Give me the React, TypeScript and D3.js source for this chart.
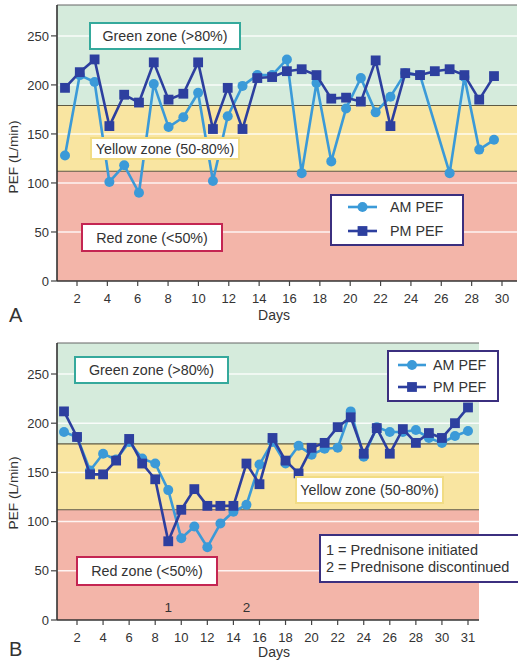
import React from 'react';
import * as d3 from 'd3';

// ---------- DATA ----------
const daysA = [1,2,3,4,5,6,7,8,9,10,11,12,13,14,15,16,17,18,19,20,21,22,23,24,25,26,27,28,29,30];
const amA: (number | null)[] = [128,210,203,101,118,90,201,157,167,192,102,168,199,210,210,226,110,202,122,176,207,172,188,212,210,null,110,208,134,144];
const pmA: (number | null)[] = [197,213,226,158,190,182,223,185,191,223,155,197,155,207,208,214,216,210,186,187,183,225,158,212,210,214,216,210,185,209];
const xTickLabelsA = ['2','4','6','8','10','12','14','16','18','20','22','24','26','28','30'];
const xTickValsA = [2,4,6,8,10,12,14,16,18,20,22,24,26,28,30];

const daysB = [1,2,3,4,5,6,7,8,9,10,11,12,13,14,15,16,17,18,19,20,21,22,23,24,25,26,27,28,29,30,31,32];
const amB: (number | null)[] = [191,186,152,169,163,181,164,159,132,83,95,74,98,110,117,158,181,159,177,168,174,175,212,166,196,191,191,193,185,180,187,192];
const pmB: (number | null)[] = [212,186,148,148,162,184,159,143,80,112,133,116,116,116,159,138,185,162,149,175,180,196,206,169,195,169,194,180,190,185,200,216];
const xTickLabelsB = ['2','4','6','8','10','12','14','16','18','20','22','24','26','28','30','31'];
const xTickValsB = [2,4,6,8,10,12,14,16,18,20,22,24,26,28,30,32];

const yTicks = [0,50,100,150,200,250];
const gridVals = [50,100,150,200,250];
const zoneCuts = [112,179];
const yMax = 281.5;

const seriesNames = ['AM PEF','PM PEF'];
const noteLines = ['1 = Prednisone initiated','2 = Prednisone discontinued'];
const eventDays = [9,15];
const eventLabels = ['1','2'];

// ---------- STYLE ----------
const FONT = '"Liberation Sans", Arial, Helvetica, sans-serif';
const AM_COLOR = '#3b9ad8';
const PM_COLOR = '#2d3f9f';
const GREEN = '#d5ebdc';
const YELLOW = '#f9e5a1';
const RED = '#f3b5a9';
const TEXT = '#333';

type Box = { x: number; y: number; w: number; h: number; text: string; stroke: string };

function Marker({ kind, x, y, color }: { kind: 'c' | 's'; x: number; y: number; color: string }) {
  if (kind === 'c') return <circle cx={x} cy={y} r={5} fill={color} />;
  const s = 9.8;
  return <rect x={x - s / 2} y={y - s / 2} width={s} height={s} fill={color} />;
}

function LabelBox({ b }: { b: Box }) {
  return (
    <g>
      <rect x={b.x} y={b.y} width={b.w} height={b.h} fill="#fff" stroke={b.stroke} strokeWidth={2} />
      <text x={b.x + b.w / 2} y={b.y + b.h / 2} dy="0.36em" textAnchor="middle" fontSize={14.3} fill={TEXT} fontFamily={FONT}>
        {b.text}
      </text>
    </g>
  );
}

function Panel(props: {
  left: number; right: number; top: number; bottom: number;
  xDomain: [number, number]; xRange: [number, number];
  tickDomain: [number, number]; tickRange: [number, number];
  days: number[]; am: (number | null)[]; pm: (number | null)[];
  tickVals: number[]; tickLabels: string[];
  boxes: Box[];
  legend: { x: number; y: number; w: number; h: number; rowY: number[]; lineX0: number; lineX1: number; textX: number; fontSize: number };
  letter: string; letterY: number; daysY: number; daysX: number; yLabelY: number;
  events?: boolean;
  note?: { x: number; y: number; w: number; h: number };
}) {
  const p = props;
  const x = d3.scaleLinear().domain(p.xDomain).range(p.xRange);
  const xt = d3.scaleLinear().domain(p.tickDomain).range(p.tickRange);
  const y = d3.scaleLinear().domain([0, yMax]).range([p.bottom, p.top]);
  const line = d3.line<[number, number]>().x(d => x(d[0])).y(d => y(d[1]));
  const pts = (vals: (number | null)[]) =>
    p.days.map((d, i) => [d, vals[i]] as [number, number | null]).filter(d => d[1] !== null) as [number, number][];
  const amPts = pts(p.am);
  const pmPts = pts(p.pm);
  const W = p.right - p.left;
  return (
    <g>
      {/* zones */}
      <rect x={p.left} y={y(yMax)} width={W} height={y(zoneCuts[1]) - y(yMax)} fill={GREEN} />
      <rect x={p.left} y={y(zoneCuts[1])} width={W} height={y(zoneCuts[0]) - y(zoneCuts[1])} fill={YELLOW} />
      <rect x={p.left} y={y(zoneCuts[0])} width={W} height={y(0) - y(zoneCuts[0])} fill={RED} />
      {gridVals.map(v => (
        <line key={v} x1={p.left} x2={p.right} y1={y(v)} y2={y(v)} stroke="#fff" strokeOpacity={0.85} strokeWidth={1.5} />
      ))}
      {zoneCuts.map(v => (
        <line key={v} x1={p.left} x2={p.right} y1={y(v)} y2={y(v)} stroke="#5e5a44" strokeWidth={1.1} />
      ))}
      <line x1={p.left} x2={p.right} y1={p.top} y2={p.top} stroke="#666" strokeWidth={1.2} />
      {/* data */}
      <path d={line(amPts) || ''} fill="none" stroke={AM_COLOR} strokeWidth={2.6} strokeLinejoin="round" />
      {amPts.map((d, i) => <Marker key={'a' + i} kind="c" x={x(d[0])} y={y(d[1])} color={AM_COLOR} />)}
      <path d={line(pmPts) || ''} fill="none" stroke={PM_COLOR} strokeWidth={2.6} strokeLinejoin="round" />
      {pmPts.map((d, i) => <Marker key={'p' + i} kind="s" x={x(d[0])} y={y(d[1])} color={PM_COLOR} />)}
      {/* zone boxes */}
      {p.boxes.map((b, i) => <LabelBox key={i} b={b} />)}
      {/* legend */}
      <rect x={p.legend.x} y={p.legend.y} width={p.legend.w} height={p.legend.h} fill="#fff" stroke="#3b2f7f" strokeWidth={2} />
      {seriesNames.map((n, i) => {
        const ly = p.legend.rowY[i];
        const col = i === 0 ? AM_COLOR : PM_COLOR;
        const mx = (p.legend.lineX0 + p.legend.lineX1) / 2;
        return (
          <g key={n}>
            <line x1={p.legend.lineX0} x2={p.legend.lineX1} y1={ly} y2={ly} stroke={col} strokeWidth={2.6} />
            <Marker kind={i === 0 ? 'c' : 's'} x={mx} y={ly} color={col} />
            <text x={p.legend.textX} y={ly} dy="0.36em" fontSize={p.legend.fontSize} fill={TEXT} fontFamily={FONT}>{n}</text>
          </g>
        );
      })}
      {p.note && (
        <g>
          <rect x={p.note.x} y={p.note.y} width={p.note.w} height={p.note.h} fill="#fff" stroke="#3b2f7f" strokeWidth={2} />
          {noteLines.map((t, i) => (
            <text key={i} x={p.note!.x + 6} y={p.note!.y + 15 + i * 17} dy="0.36em" fontSize={14.5} fill={TEXT} fontFamily={FONT}>{t}</text>
          ))}
        </g>
      )}
      {p.events && eventDays.map((d, i) => (
        <text key={i} x={x(d)} y={y(13)} dy="0.36em" textAnchor="middle" fontSize={13.5} fill={TEXT} fontFamily={FONT}>{eventLabels[i]}</text>
      ))}
      {/* axes */}
      <line x1={p.left} x2={p.left} y1={p.top} y2={p.bottom} stroke="#333" strokeWidth={1.6} />
      <line x1={p.left} x2={p.right} y1={p.bottom} y2={p.bottom} stroke="#333" strokeWidth={1.6} />
      {yTicks.map(v => (
        <g key={v}>
          <line x1={p.left - 6} x2={p.left} y1={y(v)} y2={y(v)} stroke="#444" strokeWidth={1.2} />
          <text x={p.left - 8} y={y(v)} dy="0.36em" textAnchor="end" fontSize={13} fill={TEXT} fontFamily={FONT}>{v}</text>
        </g>
      ))}
      {p.tickVals.map((v, i) => (
        <g key={v}>
          <line x1={xt(v)} x2={xt(v)} y1={p.bottom} y2={p.bottom + 5} stroke="#444" strokeWidth={1.2} />
          <text x={xt(v)} y={p.bottom + 17} dy="0.36em" textAnchor="middle" fontSize={13} fill={TEXT} fontFamily={FONT}>{p.tickLabels[i]}</text>
        </g>
      ))}
      <text x={p.daysX} y={p.daysY} dy="0.36em" textAnchor="middle" fontSize={14} fill={TEXT} fontFamily={FONT}>Days</text>
      <text transform={`translate(13,${p.yLabelY}) rotate(-90)`} dy="0.36em" textAnchor="middle" fontSize={13.7} fill={TEXT} fontFamily={FONT}>PEF (L/min)</text>
      <text x={9} y={p.letterY} fontSize={20} fill={TEXT} fontFamily={FONT}>{p.letter}</text>
    </g>
  );
}

export default function App() {
  return (
    <svg width={518} height={664} style={{ position: 'absolute', left: 0, top: 0, background: '#fff' }}>
      <Panel
        left={57} right={517} top={5} bottom={281}
        xDomain={[1, 30]} xRange={[65, 494]}
        tickDomain={[2, 30]} tickRange={[77, 502]}
        days={daysA} am={amA} pm={pmA}
        tickVals={xTickValsA} tickLabels={xTickLabelsA}
        boxes={[
          { x: 90, y: 23, w: 150, h: 26, text: 'Green zone (>80%)', stroke: '#35a99c' },
          { x: 91, y: 138, w: 148, h: 21, text: 'Yellow zone (50-80%)', stroke: '#f1dc84' },
          { x: 82, y: 224, w: 140, h: 27, text: 'Red zone (<50%)', stroke: '#c42552' },
        ]}
        legend={{ x: 331, y: 195, w: 132, h: 50, rowY: [207, 231], lineX0: 348, lineX1: 377, textX: 390, fontSize: 14.3 }}
        letter="A" letterY={322} daysX={274} daysY={315} yLabelY={157}
      />
      <Panel
        left={57} right={479} top={343} bottom={620}
        xDomain={[1, 32]} xRange={[64, 468]}
        tickDomain={[2, 32]} tickRange={[77, 468]}
        days={daysB} am={amB} pm={pmB}
        tickVals={xTickValsB} tickLabels={xTickLabelsB}
        boxes={[
          { x: 75, y: 357, w: 153, h: 26, text: 'Green zone (>80%)', stroke: '#35a99c' },
          { x: 296, y: 477, w: 147, h: 26, text: 'Yellow zone (50-80%)', stroke: '#f1dc84' },
          { x: 77, y: 557, w: 140, h: 28, text: 'Red zone (<50%)', stroke: '#c42552' },
        ]}
        legend={{ x: 388, y: 351, w: 110, h: 50, rowY: [365, 387], lineX0: 398, lineX1: 426, textX: 433, fontSize: 14.3 }}
        letter="B" letterY={656} daysX={274} daysY={652} yLabelY={493}
        events
        note={{ x: 320, y: 535, w: 200, h: 47 }}
      />
    </svg>
  );
}
